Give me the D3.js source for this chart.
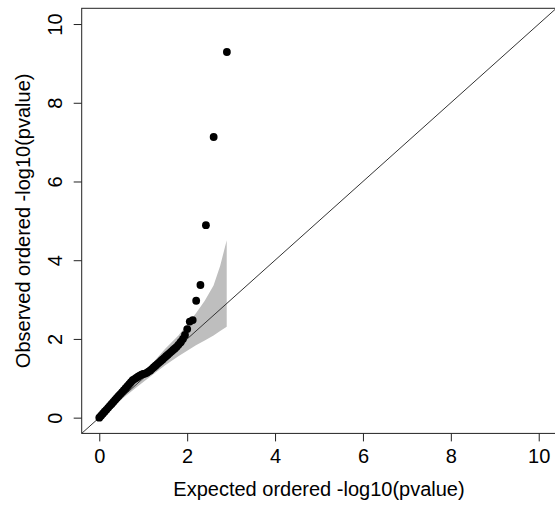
<!DOCTYPE html>
<html>
<head>
<meta charset="utf-8">
<script src="https://cdn.jsdelivr.net/npm/d3@7"></script>
<style>
  html, body { margin: 0; padding: 0; background: #fff; }
  svg { display: block; }
  text { font-family: "Liberation Sans", Arial, Helvetica, sans-serif; fill: #000; }
</style>
</head>
<body>
<svg id="chart" width="555" height="508"></svg>
<script>
// ---- data ----
const xTicks = [0, 2, 4, 6, 8, 10];
const yTicks = [0, 2, 4, 6, 8, 10];
const xTitle = "Expected ordered -log10(pvalue)";
const yTitle = "Observed ordered -log10(pvalue)";

// expected / observed -log10(p) for the plotted points
const expected = [0.00,0.04,0.08,0.12,0.16,0.20,0.24,0.28,0.32,0.36,0.40,0.44,0.48,0.52,0.56,0.60,0.64,0.68,0.72,0.76,
  0.80,0.84,0.88,0.92,0.96,1.00,1.04,1.08,1.12,1.16,1.20,1.24,1.28,1.32,1.36,1.40,1.44,1.48,1.52,1.56,1.60,1.64,1.68,1.72,1.76,1.80,1.84,1.86,
  1.904,1.95,2.001,2.059,2.126,2.205,2.302,2.427,2.603,2.904];
const observed = [0.00,0.05,0.10,0.15,0.20,0.25,0.30,0.35,0.40,0.45,0.50,0.55,0.60,0.65,0.70,0.75,0.80,0.85,0.90,0.95,
  0.98,1.01,1.04,1.07,1.09,1.11,1.12,1.14,1.17,1.20,1.24,1.28,1.32,1.36,1.40,1.44,1.48,1.52,1.56,1.60,1.64,1.68,1.72,1.76,1.80,1.85,1.90,1.93,
  2.00,2.10,2.25,2.44,2.48,2.97,3.37,4.89,7.13,9.29];

// confidence band
const bandX     = [0.00,0.30,0.60,0.90,1.20,1.50,1.80,2.00,2.20,2.40,2.60,2.75,2.90];
const bandUpper = [0.01,0.34,0.67,1.01,1.37,1.75,2.09,2.36,2.65,2.97,3.36,3.85,4.51];
const bandLower = [0.00,0.27,0.55,0.82,1.08,1.33,1.56,1.70,1.84,1.96,2.09,2.20,2.31];

// ---- drawing ----
const svg = d3.select("#chart");
const plot = { left: 81.7, right: 556.3, top: 8.3, bottom: 433.4 };
const x = d3.scaleLinear().domain([-0.4, 10.4]).range([plot.left, plot.right]);
const y = d3.scaleLinear().domain([-0.4, 10.4]).range([plot.bottom, plot.top]);

svg.append("clipPath").attr("id", "clip")
  .append("rect").attr("x", plot.left).attr("y", plot.top)
  .attr("width", plot.right - plot.left).attr("height", plot.bottom - plot.top);

const g = svg.append("g").attr("clip-path", "url(#clip)");

// band
const band = bandX.map((v, i) => ({ x: v, lo: bandLower[i], hi: bandUpper[i] }));
g.append("path")
  .datum(band)
  .attr("d", d3.area().x(d => x(d.x)).y0(d => y(d.lo)).y1(d => y(d.hi)))
  .attr("fill", "#bebebe");

// diagonal
g.append("line")
  .attr("x1", x(-0.4)).attr("y1", y(-0.4))
  .attr("x2", x(10.4)).attr("y2", y(10.4))
  .attr("stroke", "#333").attr("stroke-width", 1);

// points
const pts = expected.map((e, i) => ({ e, o: observed[i] }));
g.selectAll("circle.pt").data(pts).enter().append("circle")
  .attr("class", "pt")
  .attr("cx", d => x(d.e)).attr("cy", d => y(d.o))
  .attr("r", 3.9).attr("fill", "#000");

// box
svg.append("rect")
  .attr("x", plot.left).attr("y", plot.top)
  .attr("width", plot.right - plot.left).attr("height", plot.bottom - plot.top)
  .attr("fill", "none").attr("stroke", "#222").attr("stroke-width", 1);

// x axis
const xAxis = svg.append("g")
  .attr("transform", `translate(0,${plot.bottom})`)
  .call(d3.axisBottom(x).tickValues(xTicks).tickSize(8).tickFormat(d3.format("d")));
xAxis.select(".domain").remove();
xAxis.selectAll(".tick line").attr("stroke", "#222");
xAxis.selectAll(".tick text")
  .attr("y", 30).attr("dy", 0)
  .style("font-size", "20px").style("font-family", "'Liberation Sans', Arial, sans-serif")
  .attr("fill", "#000");

// y axis
const yAxis = svg.append("g")
  .attr("transform", `translate(${plot.left},0)`)
  .call(d3.axisLeft(y).tickValues(yTicks).tickSize(8).tickFormat(d3.format("d")));
yAxis.select(".domain").remove();
yAxis.selectAll(".tick line").attr("stroke", "#222");
yAxis.selectAll(".tick text")
  .attr("transform", "rotate(-90)")
  .attr("x", 0).attr("y", -19.7).attr("dy", 0)
  .attr("text-anchor", "middle")
  .style("font-size", "20px").style("font-family", "'Liberation Sans', Arial, sans-serif")
  .attr("fill", "#000");

// titles
svg.append("text")
  .attr("x", (plot.left + plot.right) / 2).attr("y", 496)
  .attr("text-anchor", "middle").style("font-size", "20px")
  .text(xTitle);

svg.append("text")
  .attr("transform", `translate(29.5,${(plot.top + plot.bottom) / 2}) rotate(-90)`)
  .attr("text-anchor", "middle").style("font-size", "20px")
  .text(yTitle);
</script>
</body>
</html>
